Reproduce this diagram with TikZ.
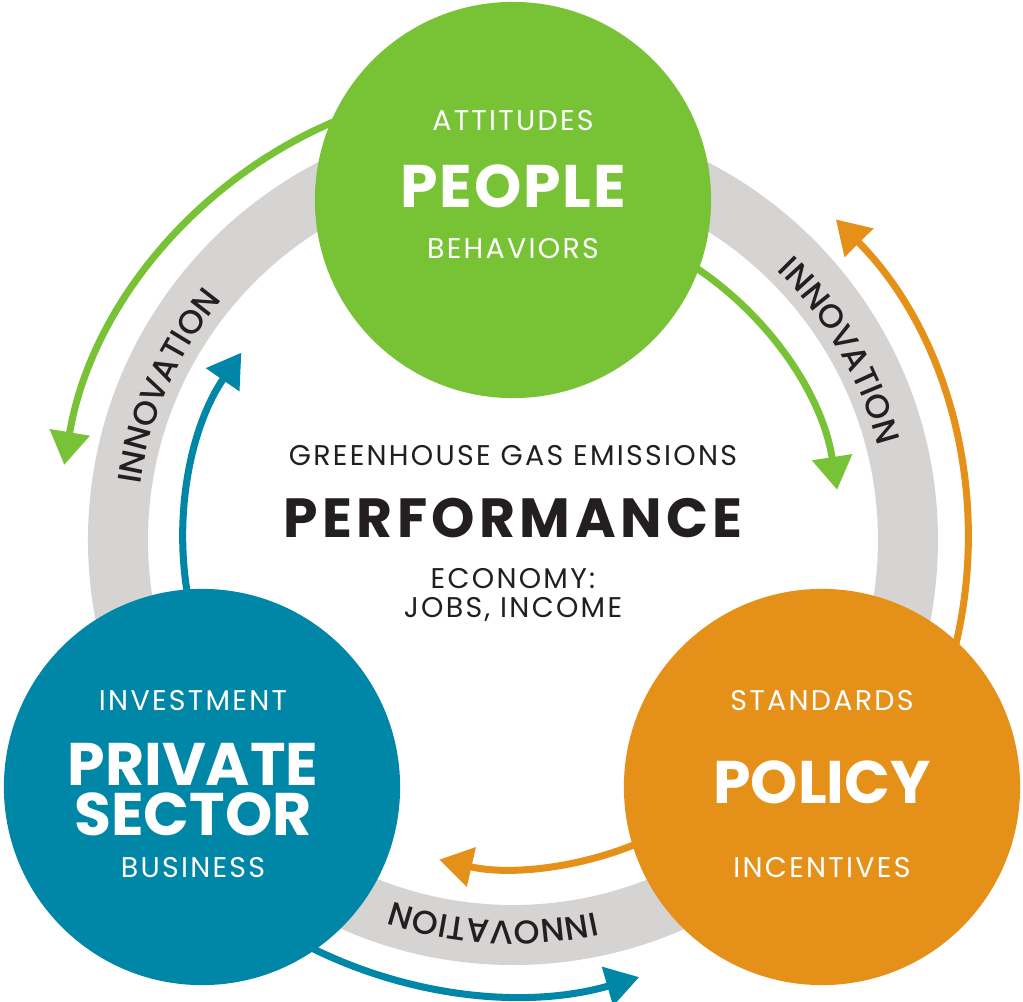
\documentclass[tikz,border=0pt]{standalone}
\usepackage{fontspec}
\setmainfont{Poppins}
\newfontfamily\ringfont{Poppins Medium}
\usepackage{tikz}
\usetikzlibrary{arrows.meta,decorations.text}
\definecolor{peoplegreen}{HTML}{78C236}
\definecolor{privateblue}{HTML}{0086A6}
\definecolor{policyorange}{HTML}{E59119}
\definecolor{ringgray}{HTML}{D5D4D3}
\definecolor{darktext}{HTML}{231F20}
\tikzstyle{disc} = [circle, minimum size=3.96cm, inner sep=0pt]
\tikzstyle{cycline} = [draw, line width=2pt, -{Triangle[length=3.3mm,width=3.9mm]}]
\tikzstyle{smalltext} = [anchor=base, inner sep=0pt, font=\fontsize{8.1}{9}\selectfont\addfontfeatures{LetterSpace=8}]
\tikzstyle{bigtext} = [anchor=base, inner sep=0pt, text=white, font=\bfseries\fontsize{17.1}{18}\selectfont]
\tikzstyle{ringtext} = [decorate, decoration={text along path, text align=center, text color=darktext,
    text={|\ringfont\fontsize{9.4}{10}\selectfont|INNOVATION}}]

\begin{document}
\begin{tikzpicture}[x=0.01cm, y=0.01cm]
    \useasboundingbox (-513,-462) rectangle (510,540);
    % gray ring
    \draw [ringgray, line width=6mm] (0,0) circle (395);
    % arrow start points, inside the discs
    \coordinate (gout) at (110:455);
    \coordinate (gin) at (60:328);
    \coordinate (oout) at (-16:455);
    \coordinate (oin) at (-65:328);
    \coordinate (bout) at (240:455);
    \coordinate (bin) at (192:330);
    \path [cycline, peoplegreen] (gout) arc[start angle=110, end angle=170.5, radius=455];
    \path [cycline, peoplegreen] (gin) arc[start angle=60, end angle=8.8, radius=328];
    \path [cycline, policyorange] (oout) arc[start angle=-16, end angle=44.8, radius=455];
    \path [cycline, policyorange] (oin) arc[start angle=-65, end angle=-103, radius=328];
    \path [cycline, privateblue] (bout) arc[start angle=240, end angle=286.1, radius=455];
    \path [cycline, privateblue] (bin) arc[start angle=192, end angle=145.4, radius=330];
    % discs
    \node [disc, fill=peoplegreen] (people) at (0,340) {};
    \node [disc, fill=privateblue] (private) at (-311,-247) {};
    \node [disc, fill=policyorange] (policy) at (309,-247) {};
    % people
    \node [smalltext, text=white] (attitudes) at (0,410) {ATTITUDES};
    \node [bigtext, font=\bfseries\fontsize{17.1}{18}\selectfont\addfontfeatures{LetterSpace=3}] (peopletxt) at (0,333) {PEOPLE};
    \node [smalltext, text=white] (behaviors) at (0,282) {BEHAVIORS};
    % performance
    \node [smalltext, text=darktext] (ghg) at (0,75) {GREENHOUSE GAS EMISSIONS};
    \node [bigtext, text=darktext, font=\bfseries\fontsize{15.7}{17}\selectfont\addfontfeatures{LetterSpace=8}] (performance) at (0,3) {PERFORMANCE};
    \node [smalltext, text=darktext] (economy) at (0,-48) {ECONOMY:};
    \node [smalltext, text=darktext] (jobs) at (0,-77) {JOBS, INCOME};
    % private sector
    \node [smalltext, text=white] (investment) at (-320,-170) {INVESTMENT};
    \node [bigtext] (privatetxt) at (-320,-245) {PRIVATE};
    \node [bigtext] (sectortxt) at (-320,-295) {SECTOR};
    \node [smalltext, text=white] (business) at (-320,-337) {BUSINESS};
    % policy
    \node [smalltext, text=white] (standards) at (309,-170) {STANDARDS};
    \node [bigtext] (policytxt) at (309,-263) {POLICY};
    \node [smalltext, text=white] (incentives) at (309,-337) {INCENTIVES};
    % innovation labels on the ring
    \path [ringtext] (181:377) arc[start angle=181, end angle=131, radius=377];
    \path [ringtext] (55:377) arc[start angle=55, end angle=5, radius=377];
    \path [ringtext] (-68:381) arc[start angle=-68, end angle=-118, radius=381];
\end{tikzpicture}
\end{document}
